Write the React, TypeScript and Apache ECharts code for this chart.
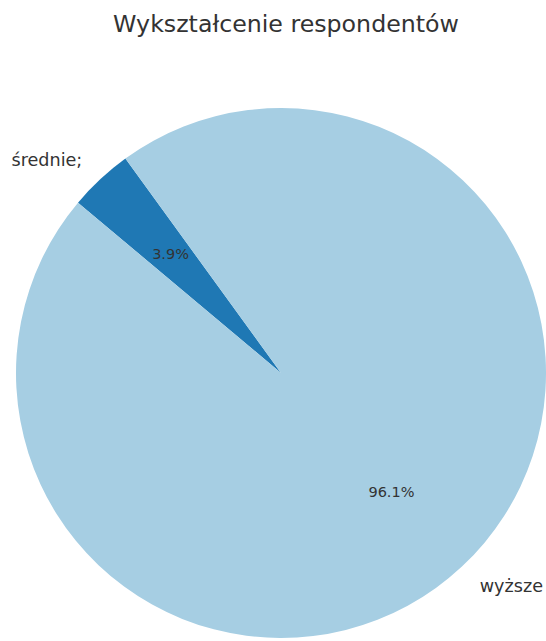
import React, { useEffect, useRef } from "react";
import * as echarts from "echarts";

const title = "Wykształcenie respondentów";
const categories = ["średnie;", "wyższe"];
const values = [3.9, 96.1];
const colors = ["#1f78b4", "#a6cee3"];

export default function App() {
  const ref = useRef<HTMLDivElement>(null);
  useEffect(() => {
    document.body.style.margin = "0";
    const chart = echarts.init(ref.current!, null, { renderer: "svg" });
    const R = 265;
    const center = [281, 373];
    const data = categories.map((name, i) => ({
      name,
      value: values[i],
      itemStyle: { color: colors[i] },
    }));
    chart.setOption({
      animation: false,
      title: {
        text: title,
        left: 281,
        textAlign: "center",
        top: 7,
        textStyle: {
          fontFamily: "DejaVu Sans",
          fontSize: 23.7,
          fontWeight: "normal",
          color: "#333333",
        },
      },
      series: [
        {
          type: "pie",
          center,
          radius: [0, R],
          startAngle: 140,
          clockwise: true,
          avoidLabelOverlap: false,
          silent: true,
          data,
          label: {
            show: true,
            position: "outside",
            formatter: "{b}",
            fontFamily: "DejaVu Sans",
            fontSize: 17.6,
            color: "#333333",
            distanceToLabelLine: 0,
          },
          labelLine: { show: false, length: R * 0.1, length2: 0 },
        },
        {
          type: "pie",
          center,
          radius: [R * 0.2, R],
          startAngle: 140,
          clockwise: true,
          avoidLabelOverlap: false,
          silent: true,
          data: categories.map((name, i) => ({
            name,
            value: values[i],
            itemStyle: { color: "transparent" },
          })),
          label: {
            show: true,
            position: "inside",
            formatter: (p: any) => `${values[p.dataIndex].toFixed(1)}%`,
            fontFamily: "DejaVu Sans",
            fontSize: 14.5,
            color: "#333333",
          },
          labelLine: { show: false },
        },
      ],
    });
    return () => chart.dispose();
  }, []);
  return <div ref={ref} style={{ width: 546, height: 641 }} />;
}
